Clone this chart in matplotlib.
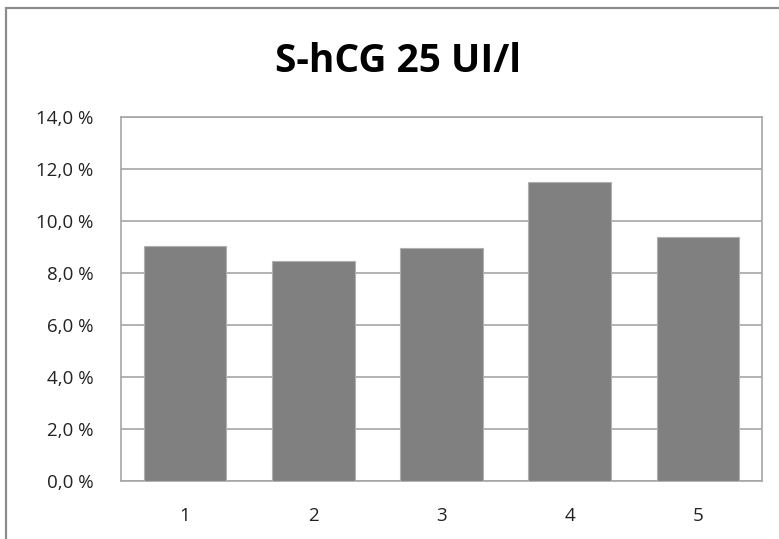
import matplotlib.pyplot as plt
from matplotlib.patches import Rectangle
from matplotlib.ticker import FuncFormatter

categories = ["1", "2", "3", "4", "5"]
values = [9.05, 8.47, 8.96, 11.49, 9.37]
yticks = [0, 2, 4, 6, 8, 10, 12, 14]
title = "S-hCG 25 UI/l"

plt.rcParams['font.family'] = ['Open Sans', 'DejaVu Sans']

fig = plt.figure(figsize=(7.79, 5.39), dpi=100)
ax = fig.add_axes([121 / 779, 58 / 539, 641 / 779, 364 / 539])

# chart frame, cropped on the right and bottom like the source
fig.patches.append(Rectangle((6 / 779, -0.1), 1.2, (531 / 539) + 0.1,
                             transform=fig.transFigure, fill=False,
                             edgecolor="#8c8c8c", linewidth=1.6))

x = range(len(categories))
ax.bar(x, values, width=0.645, color="#808080", edgecolor="#b0b0b0",
       linewidth=0.8, zorder=3)

ax.set_xlim(-0.5, len(categories) - 0.5)
ax.set_ylim(0, 14)
ax.set_yticks(yticks)
ax.yaxis.set_major_formatter(FuncFormatter(lambda v, p: f"{v:.1f}".replace(".", ",") + " %"))
ax.set_xticks(list(x))
ax.set_xticklabels(categories)
ax.tick_params(length=0, labelsize=13.5, colors="#222222")
ax.tick_params(axis="x", pad=19)
ax.tick_params(axis="y", pad=20)
ax.grid(axis="y", color="#a6a6a6", linewidth=1.2, zorder=0)
for s in ax.spines.values():
    s.set_color("#a6a6a6")
    s.set_linewidth(1.2)

fig.text(398 / 779, 1 - 62 / 539, title, ha="center", va="center",
         fontsize=28, fontweight="bold", color="#000000")

fig.savefig("out.png", dpi=100)
